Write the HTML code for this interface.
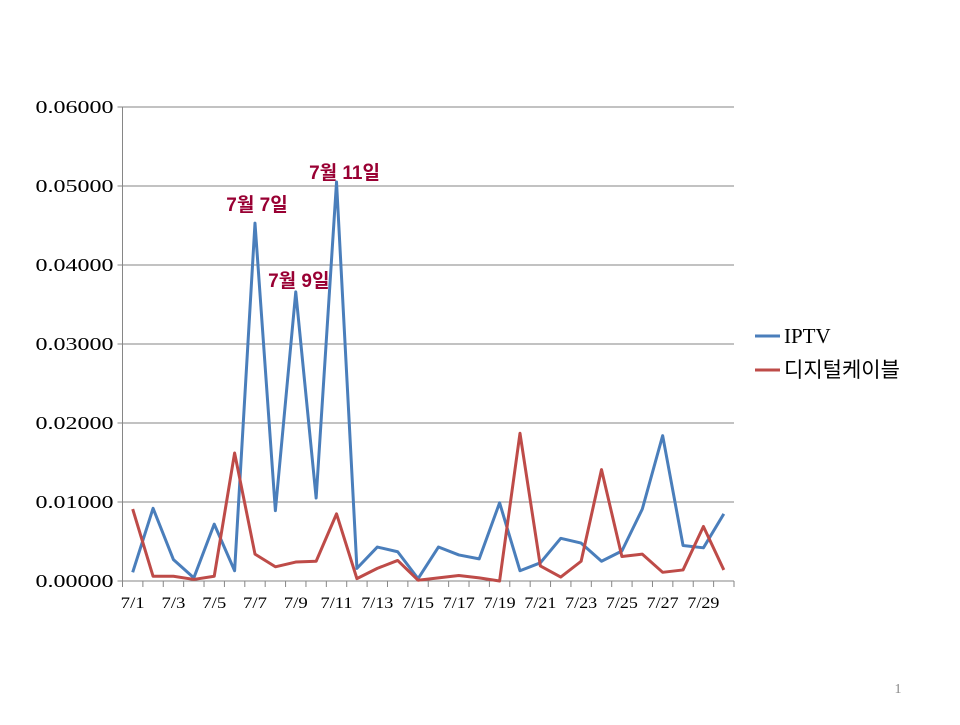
<!DOCTYPE html>
<html><head><meta charset="utf-8"><style>
body{margin:0;background:#fff;width:960px;height:720px;overflow:hidden}
svg text{font-family:"Liberation Serif","Noto Serif CJK SC",serif}
</style></head><body>
<svg width="960" height="720" id="c"></svg>
<script>
const categories=["7/1","7/2","7/3","7/4","7/5","7/6","7/7","7/8","7/9","7/10","7/11","7/12","7/13","7/14","7/15","7/16","7/17","7/18","7/19","7/20","7/21","7/22","7/23","7/24","7/25","7/26","7/27","7/28","7/29","7/30"];
const iptv=[0.0011,0.0092,0.0027,0.0004,0.0072,0.0013,0.0453,0.0089,0.0366,0.0105,0.0505,0.0016,0.0043,0.0037,0.0003,0.0043,0.0033,0.0028,0.0099,0.0013,0.0023,0.0054,0.0048,0.0025,0.0038,0.0091,0.0184,0.0045,0.0042,0.0085];
const cable=[0.0091,0.0006,0.0006,0.0002,0.0006,0.0162,0.0034,0.0018,0.0024,0.0025,0.0085,0.0003,0.0016,0.0026,0.0001,0.0004,0.0007,0.0004,0.0000,0.0187,0.0019,0.0005,0.0025,0.0141,0.0031,0.0034,0.0011,0.0014,0.0069,0.0014];
const yTicks=[0,0.01,0.02,0.03,0.04,0.05,0.06];
const annotations=[{i:6,t:"7월 7일",dx:2,dy:-12},{i:8,t:"7월 9일",dx:3,dy:-5},{i:10,t:"7월 11일",dx:8,dy:-3}];
const L=122.5,R=734,T=107,B=581;
const x=i=>L+(i+0.5)*(R-L)/categories.length;
const y=v=>B-(v/0.06)*(B-T);
const s=document.getElementById('c');const NS="http://www.w3.org/2000/svg";
function mk(t,a,p){const e=document.createElementNS(NS,t);for(const k in a)e.setAttribute(k,a[k]);(p||s).appendChild(e);return e;}
yTicks.forEach(v=>{
 const g=mk('line',{x1:L-5,x2:R,y1:y(v),y2:y(v),stroke:'#868686','stroke-width':1});
 
 
 const t=mk('text',{x:L-9,y:y(v)+6,'text-anchor':'end','font-size':18,textLength:78,lengthAdjust:'spacingAndGlyphs',fill:'#000'});t.textContent=v.toFixed(5);
 
 
});
const ax=mk('line',{x1:L,x2:L,y1:T,y2:B,stroke:'#868686'});


for(let i=0;i<=categories.length;i++){const xx=L+i*(R-L)/categories.length;mk('line',{x1:xx,x2:xx,y1:B,y2:B+6,stroke:'#868686'});}
categories.forEach((c,i)=>{if(i%2)return;const t=mk('text',{x:x(i),y:B+27,'text-anchor':'middle','font-size':16,textLength:c.length*8,lengthAdjust:'spacingAndGlyphs'});t.textContent=c;
 
 });
function line(d,col,name){const p=mk('polyline',{points:d.map((v,i)=>x(i)+','+y(v)).join(' '),fill:'none',stroke:col,'stroke-width':3,'stroke-linejoin':'round'});
 
 }
line(iptv,'#4a7ebb','iptv-line');line(cable,'#be4b48','cable-line');
annotations.forEach(a=>{const t=mk('text',{x:x(a.i)+a.dx,y:y(iptv[a.i])+a.dy,'text-anchor':'middle','font-size':19,'font-weight':'bold',fill:'#990033',style:'font-family:"Liberation Sans","Noto Sans CJK KR",sans-serif'});t.textContent=a.t;
 
 });
[['IPTV','#4a7ebb',336],['디지털케이블','#be4b48',370]].forEach(([n,c,yy])=>{
 const l=mk('line',{x1:755,x2:780,y1:yy,y2:yy,stroke:c,'stroke-width':3});
 
 
 const t=mk('text',{x:784,y:yy+7,'font-size':21,style:'font-family:"Liberation Serif","Noto Sans CJK KR",serif'});t.textContent=n;
 
 });
const pn=mk('text',{x:898,y:693,'font-size':14,fill:'#888','text-anchor':'middle'});pn.textContent='1';


</script>
</body></html>
